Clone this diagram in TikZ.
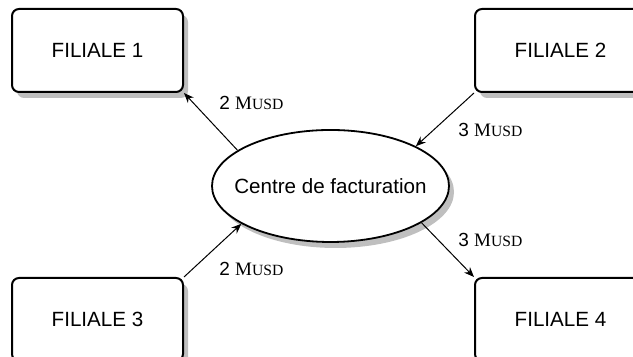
\documentclass[tikz,border=0pt]{standalone}
\usepackage{fontspec}
\setmainfont{Liberation Serif}
\setsansfont{Liberation Sans}
\usepackage{xcolor}
\usepackage{tikz}
\usetikzlibrary{positioning,arrows.meta,shapes.geometric,shadows}
\newcommand{\musd}[1]{{\sffamily\fontsize{9.5}{11}\selectfont #1 }{\fontsize{9.5}{11}\selectfont M}{\fontsize{7.8}{9}\selectfont USD}}

\begin{document}
\begin{tikzpicture}[x=0.5pt,y=0.5pt,
  filiale/.style={draw, line width=1pt, rounded corners=3.5pt, fill=white,
    minimum width=85.5pt, minimum height=41.5pt, inner sep=0pt,
    font=\sffamily\fontsize{10.3}{12}\selectfont,
    drop shadow={shadow xshift=2.5pt, shadow yshift=-3pt, fill=black, opacity=0.25}},
  centre/.style={ellipse, draw, line width=0.9pt, fill=white,
    minimum width=118.5pt, minimum height=56pt, inner xsep=-7.5pt, inner ysep=0pt,
    font=\sffamily\fontsize{10.3}{12}\selectfont,
    drop shadow={shadow xshift=2.5pt, shadow yshift=-3pt, fill=black, opacity=0.25}},
  flux/.style={-{Stealth[length=5pt,width=4pt]}, line width=0.5pt},
  montant/.style={anchor=west, inner sep=0pt}]
  \useasboundingbox (0,0) rectangle (633,357);
  \node[filiale] (f1) at (97.5,306.5) {FILIALE 1};
  \node[filiale] (f2) at (560.5,306.5) {FILIALE 2};
  \node[filiale] (f3) at (97.5,37.5) {FILIALE 3};
  \node[filiale] (f4) at (560.5,37.5) {FILIALE 4};
  \node[centre] (cf) at (330.5,171) {Centre de facturation};
  % flux entre filiales et centre
  \draw[flux] (cf.159) -- (f1.south east);
  \draw[flux] (f2.south west) -- (cf.25);
  \draw[flux] (f3.north east) -- (cf.203);
  \draw[flux] (cf.-22) -- (f4.north west);
  \node[montant] (m1) at (219,254) {\musd{2}};
  \node[montant] (m2) at (458,227) {\musd{3}};
  \node[montant] (m3) at (219,88) {\musd{2}};
  \node[montant] (m4) at (458,117) {\musd{3}};
\end{tikzpicture}
\end{document}
